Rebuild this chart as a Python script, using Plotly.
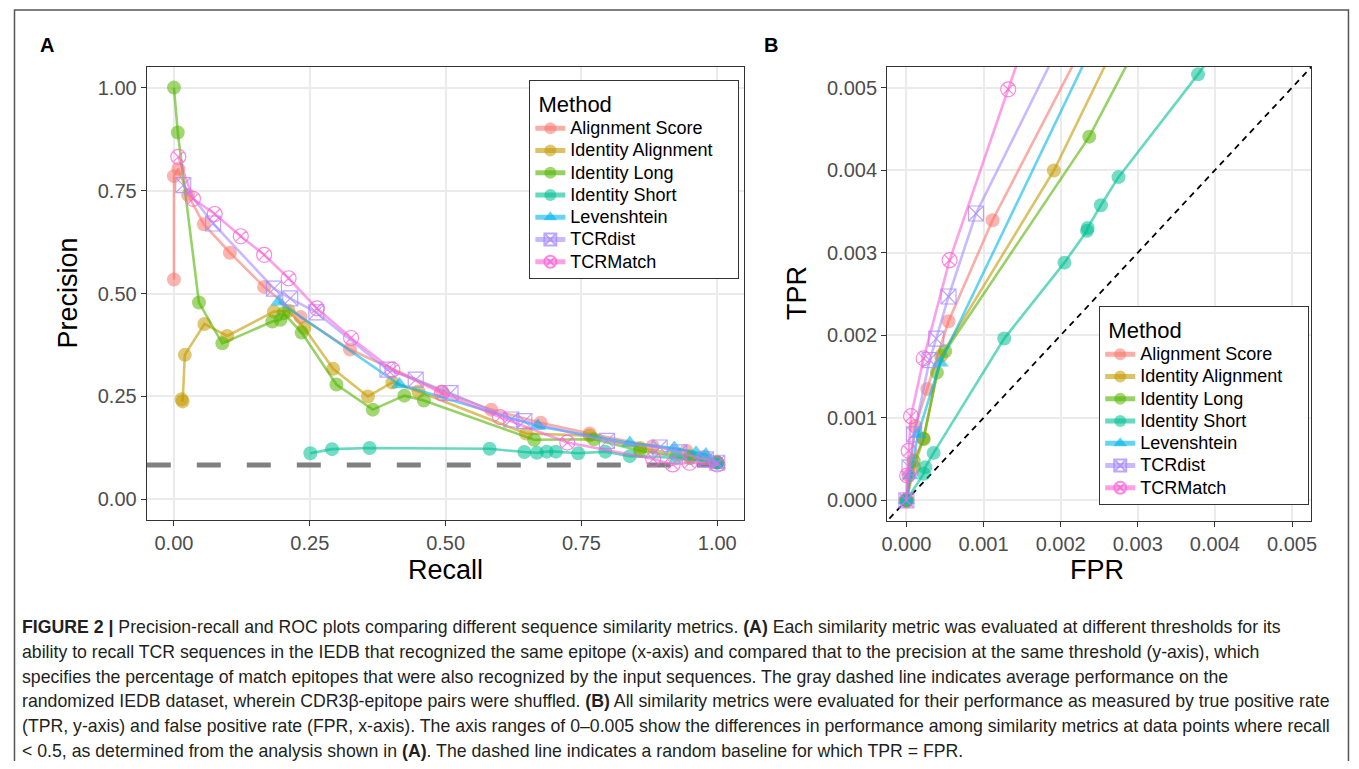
import plotly.graph_objects as go

# ---------------- data ----------------
methods = ["Alignment Score", "Identity Alignment", "Identity Long", "Identity Short",
           "Levenshtein", "TCRdist", "TCRMatch"]
colors = ["#F8766D", "#C49A00", "#53B400", "#00C094", "#00B6EB", "#A58AFF", "#FB61D7"]
symbols = ["circle", "circle", "circle", "circle", "triangle-up", "square-x-open", "circle-x-open"]

# Panel A: recall / precision
as_rec = [0.0, 0.0, 0.008, 0.026, 0.055, 0.103, 0.166, 0.233, 0.324, 0.493, 0.584, 0.675, 0.765, 0.881, 0.943, 0.975, 1.0]
as_prec = [0.534, 0.785, 0.803, 0.739, 0.668, 0.599, 0.516, 0.443, 0.364, 0.262, 0.218, 0.186, 0.160, 0.129, 0.118, 0.103, 0.090]
ia_rec = [0.014, 0.016, 0.020, 0.056, 0.098, 0.184, 0.211, 0.240, 0.293, 0.357, 0.402, 0.45, 0.648, 0.765, 0.858, 0.95, 1.0]
ia_prec = [0.243, 0.238, 0.351, 0.426, 0.397, 0.456, 0.458, 0.416, 0.317, 0.250, 0.284, 0.262, 0.160, 0.155, 0.125, 0.105, 0.090]
il_rec = [0.0, 0.007, 0.046, 0.089, 0.181, 0.196, 0.202, 0.235, 0.299, 0.366, 0.424, 0.460, 0.663, 0.773, 0.858, 0.95, 1.0]
il_prec = [1.0, 0.891, 0.478, 0.379, 0.432, 0.436, 0.452, 0.405, 0.279, 0.218, 0.252, 0.240, 0.145, 0.146, 0.118, 0.100, 0.090]
is_rec = [0.251, 0.291, 0.360, 0.581, 0.645, 0.668, 0.686, 0.703, 0.744, 0.794, 0.839, 0.924, 1.0]
is_prec = [0.112, 0.122, 0.125, 0.123, 0.115, 0.113, 0.116, 0.116, 0.112, 0.116, 0.105, 0.101, 0.089]
lev_rec = [0.193, 0.415, 0.670, 0.839, 0.921, 0.961, 0.979, 1.0]
lev_prec = [0.480, 0.279, 0.178, 0.137, 0.125, 0.113, 0.109, 0.085]
td_rec = [0.017, 0.072, 0.184, 0.214, 0.262, 0.393, 0.445, 0.509, 0.621, 0.645, 0.797, 0.894, 0.93, 0.979, 1.0]
td_prec = [0.763, 0.670, 0.512, 0.488, 0.454, 0.315, 0.291, 0.258, 0.194, 0.190, 0.142, 0.126, 0.114, 0.097, 0.089]
tm_rec = [0.008, 0.035, 0.075, 0.123, 0.166, 0.211, 0.263, 0.326, 0.402, 0.493, 0.60, 0.724, 0.882, 0.918, 0.949, 1.0]
tm_prec = [0.832, 0.730, 0.693, 0.639, 0.594, 0.537, 0.464, 0.392, 0.315, 0.258, 0.20, 0.138, 0.098, 0.085, 0.089, 0.085]
random_precision = 0.0837

# Panel B: FPR / TPR
as_fpr = [0, 0.00003, 0.000116, 0.00027, 0.000546, 0.001117, 0.00234]
as_tpr = [0, 0.0003, 0.0009, 0.00135, 0.002169, 0.003394, 0.0056]
ia_fpr = [0, 0.0001, 0.00022, 0.00045, 0.001912, 0.00275]
ia_tpr = [0, 0.0004, 0.00075, 0.00175, 0.003996, 0.0056]
il_fpr = [0, 0.000095, 0.000224, 0.000396, 0.000503, 0.002371, 0.00304]
il_tpr = [0, 0.00048, 0.000743, 0.001547, 0.001807, 0.004406, 0.0056]
is_fpr = [0, 0.000224, 0.000245, 0.000353, 0.001268, 0.002049, 0.002342, 0.00235, 0.002522, 0.00275, 0.003781, 0.00412]
is_tpr = [0, 0.000322, 0.000402, 0.000575, 0.00196, 0.00288, 0.003265, 0.0033, 0.003575, 0.003916, 0.005161, 0.0056]
lev_fpr = [0, 0.00005, 0.00015, 0.000438, 0.00246]
lev_tpr = [0, 0.0003, 0.0008, 0.001667, 0.0056]
td_fpr = [0, 0.00004, 0.0001, 0.0003, 0.000387, 0.000546, 0.000902, 0.00203]
td_tpr = [0, 0.0004, 0.0008, 0.0017, 0.00196, 0.00247, 0.003475, 0.0056]
tm_fpr = [0, 0.00001, 0.00003, 0.00006, 0.000224, 0.00056, 0.00132, 0.00162]
tm_tpr = [0, 0.0003, 0.0006, 0.00102, 0.00172, 0.00291, 0.00498, 0.0058]
diag_vals = [-0.001, 0.006]

pr_x = [as_rec, ia_rec, il_rec, is_rec, lev_rec, td_rec, tm_rec]
pr_y = [as_prec, ia_prec, il_prec, is_prec, lev_prec, td_prec, tm_prec]
roc_x = [as_fpr, ia_fpr, il_fpr, is_fpr, lev_fpr, td_fpr, tm_fpr]
roc_y = [as_tpr, ia_tpr, il_tpr, is_tpr, lev_tpr, td_tpr, tm_tpr]

caption_lines = [
    "<b>FIGURE 2 |</b> Precision-recall and ROC plots comparing different sequence similarity metrics. <b>(A)</b> Each similarity metric was evaluated at different thresholds for its",
    "ability to recall TCR sequences in the IEDB that recognized the same epitope (x-axis) and compared that to the precision at the same threshold (y-axis), which",
    "specifies the percentage of match epitopes that were also recognized by the input sequences. The gray dashed line indicates average performance on the",
    "randomized IEDB dataset, wherein CDR3β-epitope pairs were shuffled. <b>(B)</b> All similarity metrics were evaluated for their performance as measured by true positive rate",
    "(TPR, y-axis) and false positive rate (FPR, x-axis). The axis ranges of 0–0.005 show the differences in performance among similarity metrics at data points where recall",
    "&lt; 0.5, as determined from the analysis shown in <b>(A)</b>. The dashed line indicates a random baseline for which TPR = FPR.",
]

# ---------------- layout helpers ----------------
# page body has an 8px margin; the figure fills the rest of the 1359x769 window
OFF = 8
W, H = 1359 - 2 * OFF, 769 - 2 * OFF
def px(x):
    return (x - OFF) / W
def py(y):
    return 1 - (y - OFF) / H

def rgba(hexc, a):
    h = hexc.lstrip("#")
    r, g, b = int(h[0:2], 16), int(h[2:4], 16), int(h[4:6], 16)
    return f"rgba({r},{g},{b},{a})"

FONT = "Liberation Sans, Arial, sans-serif"
fig = go.Figure()

# baseline dashed line (panel A)
fig.add_trace(go.Scatter(x=[-0.05, 1.05], y=[random_precision, random_precision], mode="lines",
                         line=dict(color="#808080", width=5, dash="24px,26px"),
                         showlegend=False, hoverinfo="skip", xaxis="x", yaxis="y"))
# diagonal (panel B)
fig.add_trace(go.Scatter(x=diag_vals, y=diag_vals, mode="lines",
                         line=dict(color="black", width=1.8, dash="6px,5px"),
                         showlegend=False, hoverinfo="skip", xaxis="x2", yaxis="y2"))

def marker_for(i):
    s = symbols[i]
    if s.endswith("open"):
        return dict(symbol=s, size=15, color=rgba(colors[i], 0.75), line=dict(width=1.2, color=rgba(colors[i], 0.75)))
    if s.startswith("triangle"):
        return dict(symbol=s, size=15, color=rgba(colors[i], 0.6), line=dict(width=0))
    return dict(symbol=s, size=14, color=rgba(colors[i], 0.55), line=dict(width=0))

LEG_TXT = 18
def leg_name(m):
    # trailing non-breaking spaces give the box its right-hand padding
    return f'<span style="font-size:{LEG_TXT}px">{m}\u00a0\u00a0\u00a0\u00a0</span>'

for i, m in enumerate(methods):
    fig.add_trace(go.Scatter(x=pr_x[i], y=pr_y[i], mode="lines+markers", name=leg_name(m),
                             line=dict(color=rgba(colors[i], 0.6), width=2.6),
                             marker=marker_for(i), legend="legend", xaxis="x", yaxis="y"))
for i, m in enumerate(methods):
    fig.add_trace(go.Scatter(x=roc_x[i], y=roc_y[i], mode="lines+markers", name=leg_name(m),
                             line=dict(color=rgba(colors[i], 0.6), width=2.6),
                             marker=marker_for(i), legend="legend2", xaxis="x2", yaxis="y2"))

axis_common = dict(showline=True, mirror=True, linecolor="#333333", linewidth=1.2,
                   ticks="outside", ticklen=5, tickwidth=1.2, tickcolor="#333333",
                   showgrid=True, gridcolor="#EBEBEB", gridwidth=1.6, zeroline=False,
                   tickfont=dict(family=FONT, size=20, color="#4D4D4D"))

legend_common = dict(bgcolor="white", bordercolor="#333333", borderwidth=1,
                     font=dict(family=FONT, size=14.8, color="black"),
                     title=dict(text='<span style="font-size:22px">\u00a0Method</span>',
                                font=dict(family=FONT, size=24, color="black")),
                     xanchor="left", yanchor="top", tracegroupgap=0, itemsizing="constant")

annotations = [
    dict(x=px(41), y=py(45), text="<b>A</b>", font=dict(family=FONT, size=20, color="black")),
    dict(x=px(772), y=py(45), text="<b>B</b>", font=dict(family=FONT, size=20, color="black")),
    dict(x=px(62), y=py(293), text="Precision", textangle=-90, font=dict(family=FONT, size=27, color="black")),
    dict(x=px(443), y=py(570), text="Recall", font=dict(family=FONT, size=27, color="black")),
    dict(x=px(798), y=py(293), text="TPR", textangle=-90, font=dict(family=FONT, size=27, color="black")),
    dict(x=px(1101), y=py(570), text="FPR", font=dict(family=FONT, size=27, color="black")),
]
for a in annotations:
    a.update(xref="paper", yref="paper", showarrow=False, xanchor="center", yanchor="middle")

cap_x0, cap_y0 = 14.5, 627
for k, line in enumerate(caption_lines):
    annotations.append(dict(x=px(cap_x0), y=py(cap_y0 + k * 24.8), xref="paper", yref="paper",
                            text=line, showarrow=False, xanchor="left", yanchor="middle",
                            font=dict(family=FONT, size=17.7, color="#231F20")))

fig.update_layout(
    width=W, height=H, margin=dict(l=0, r=0, t=0, b=0),
    paper_bgcolor="white", plot_bgcolor="white",
    xaxis=dict(domain=[px(142), px(745)], range=[-0.05, 1.05], dtick=0.25, tick0=0,
               tickformat=".2f", anchor="y", **axis_common),
    yaxis=dict(domain=[py(520), py(67)], range=[-0.05, 1.05], dtick=0.25, tick0=0,
               tickformat=".2f", anchor="x", **axis_common),
    xaxis2=dict(domain=[px(889), px(1317)], range=[-0.00025, 0.00525], dtick=0.001, tick0=0,
                tickformat=".3f", anchor="y2", **axis_common),
    yaxis2=dict(domain=[py(521), py(67)], range=[-0.00025, 0.00525], dtick=0.001, tick0=0,
                tickformat=".3f", anchor="x2", **axis_common),
    legend=dict(x=px(528), y=py(80), **legend_common),
    legend2=dict(x=px(1103), y=py(306), **legend_common),
    annotations=annotations,
    shapes=[dict(type="rect", xref="paper", yref="paper", x0=px(8.5), x1=px(1354.5), y0=py(800), y1=py(10),
                 line=dict(color="#555555", width=1.5), fillcolor="rgba(0,0,0,0)", layer="below")],
    font=dict(family=FONT),
    showlegend=True,
)

fig.write_html("out.html")
